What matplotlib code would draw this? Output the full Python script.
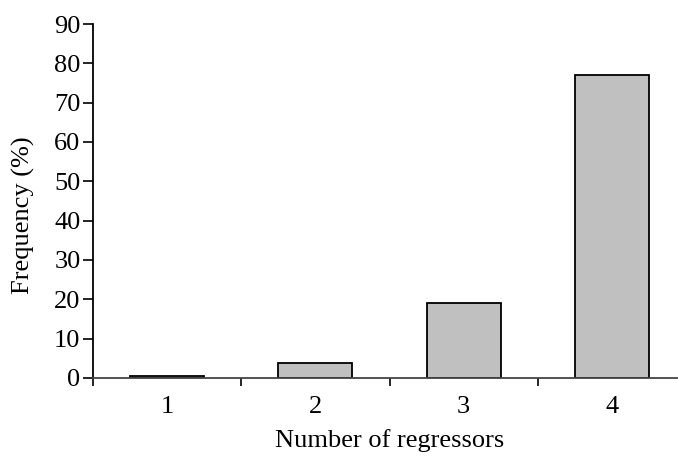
import numpy as np
import matplotlib.pyplot as plt

plt.rcParams['font.family'] = ['Liberation Serif', 'DejaVu Serif']

# regressors count vs frequency
n_regressors = [1, 2, 3, 4]
freq_pct = [0.4, 3.9, 19.0, 77.0]
tick_labels = ['1', '2', '3', '4']

fig = plt.figure(figsize=(6.78, 4.57), dpi=100)
ax = fig.add_axes([93/678, 79/457, 593/678, 354/457])

x_pos = np.array(n_regressors)
ax.bar(x_pos, freq_pct, width=0.5, color='#c0c0c0',
       edgecolor='black', linewidth=1.3)

ax.set_xlim(0.5, 4.5)
ax.set_ylim(0, 90)
ax.set_yticks(np.arange(0, 91, 10))
ax.tick_params(axis='y', labelsize=19, length=7, width=1.2, direction='out', pad=2)

# category boundary ticks, labels in between
ax.set_xticks(np.arange(0.5, 4.6, 1.0))
ax.set_xticklabels([])
ax.set_xticks(x_pos, minor=True)
ax.set_xticklabels(tick_labels, minor=True)
ax.tick_params(axis='x', which='major', length=6, width=1.2, direction='out')
ax.tick_params(axis='x', which='minor', length=0, labelsize=19, pad=13)

for s in ['top', 'right']:
    ax.spines[s].set_visible(False)
ax.spines['left'].set_linewidth(1.3)
ax.spines['bottom'].set_linewidth(1.3)
ax.spines['bottom'].set_color('#444444')

ax.set_xlabel('Number of regressors', fontsize=19, labelpad=8)
ax.set_ylabel('Frequency (%)', fontsize=19)
ax.yaxis.set_label_coords(-0.098, 0.46)

fig.savefig('out.png', dpi=100)
